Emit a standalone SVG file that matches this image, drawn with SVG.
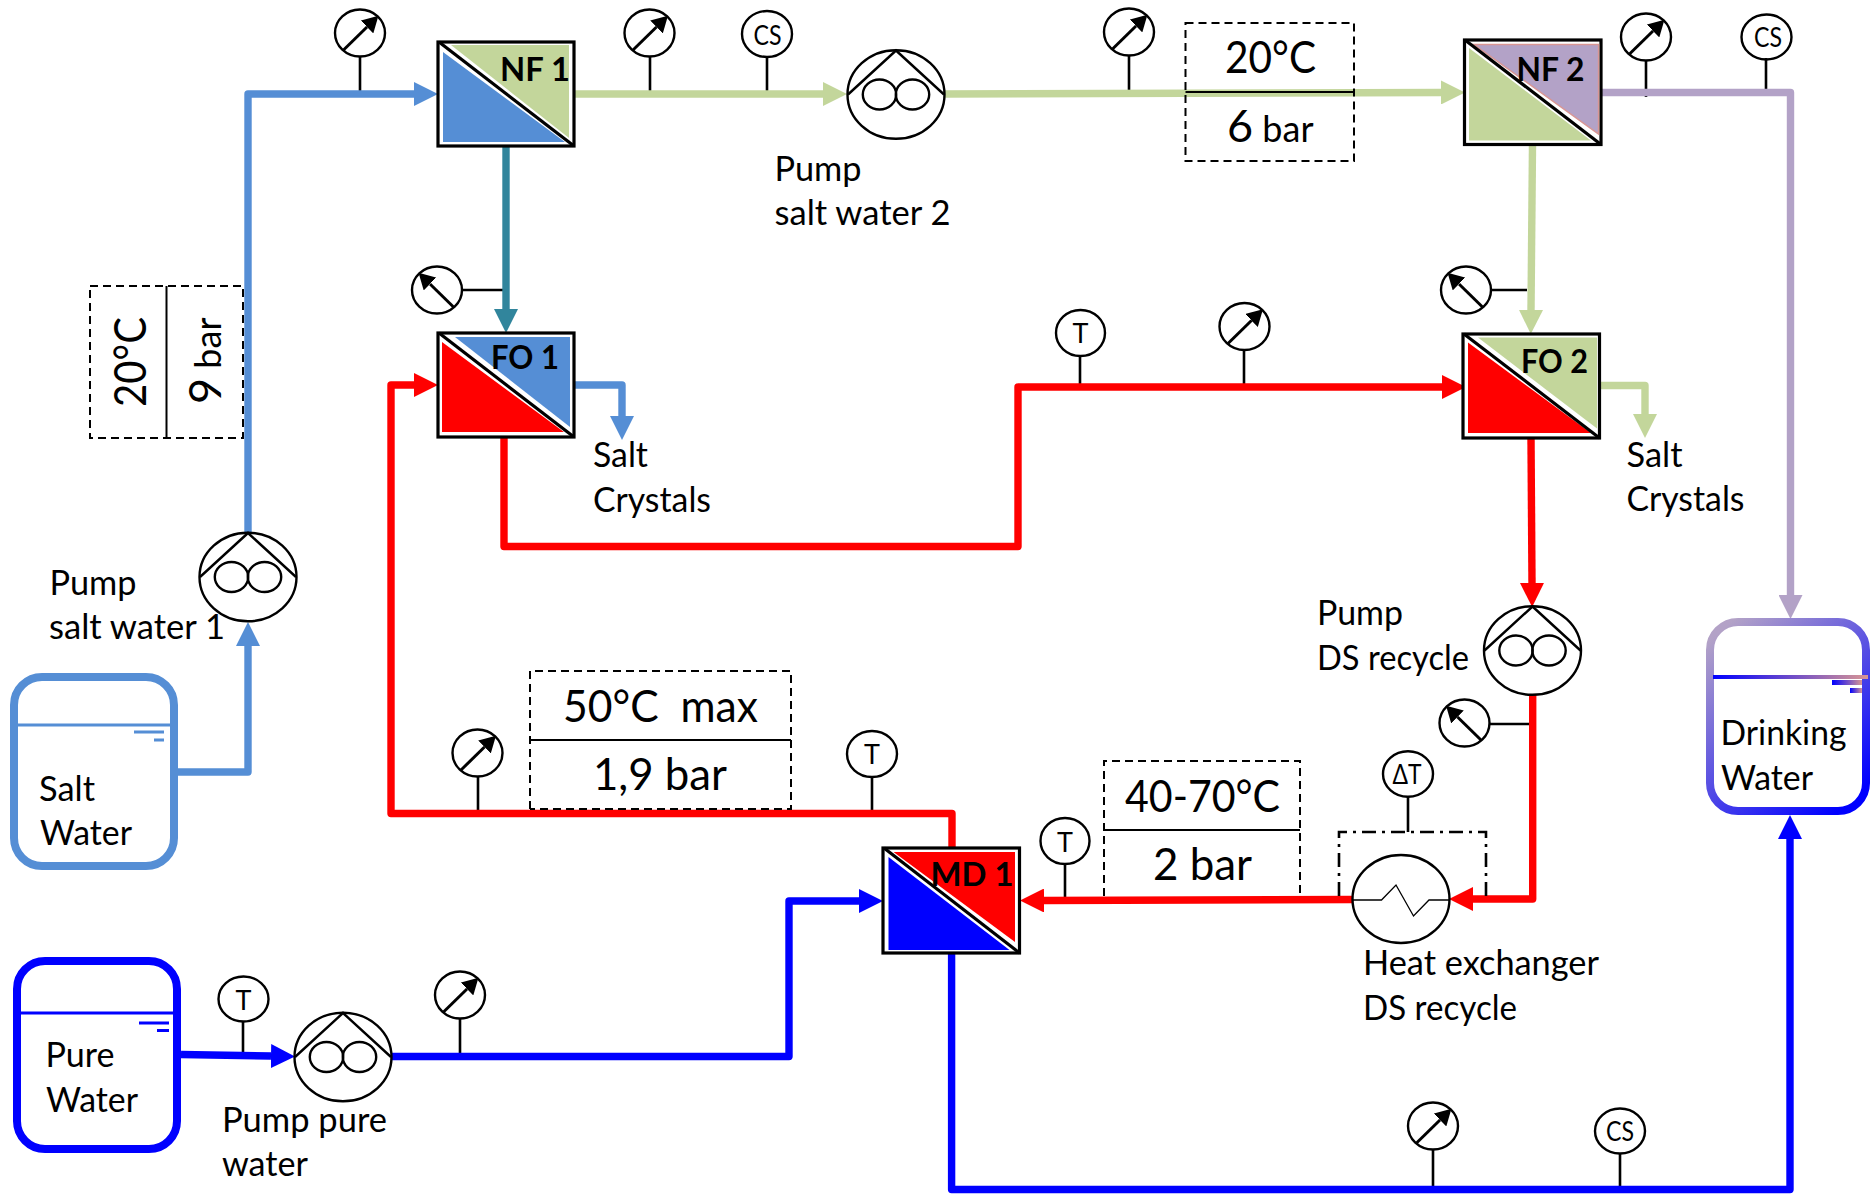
<svg xmlns="http://www.w3.org/2000/svg" width="1870" height="1194" viewBox="0 0 1870 1194">
<style>
text{font-family:Lato,"Liberation Sans",sans-serif;fill:#000}
.l{font-size:35px}
.b{font-size:33px;font-weight:700}
.s{font-size:27px;text-anchor:middle}
.big{font-size:45px}
.mid{font-size:36px}
.p{fill:none;stroke-width:7.4;stroke-linejoin:round}
.stem{fill:none;stroke:#000;stroke-width:2.6}
.thin{fill:none;stroke:#000;stroke-width:2}
.dash{fill:none;stroke:#000;stroke-width:2;stroke-dasharray:8 5}
.frame{fill:#fff;stroke:#000;stroke-width:3.2}
.diag{stroke:#000;stroke-width:3.2}
.ink{fill:none;stroke:#000;stroke-width:2.4}
.tank{fill:#fff;stroke-width:8}
</style>
<defs>
<marker id="aSalt" markerUnits="userSpaceOnUse" markerWidth="24" markerHeight="24" viewBox="0 0 24 24" refX="0" refY="12" orient="auto"><path d="M0 0L24 12L0 24Z" fill="#558ED5"/></marker>
<marker id="aTeal" markerUnits="userSpaceOnUse" markerWidth="24" markerHeight="24" viewBox="0 0 24 24" refX="0" refY="12" orient="auto"><path d="M0 0L24 12L0 24Z" fill="#31859C"/></marker>
<marker id="aGreen" markerUnits="userSpaceOnUse" markerWidth="24" markerHeight="24" viewBox="0 0 24 24" refX="0" refY="12" orient="auto"><path d="M0 0L24 12L0 24Z" fill="#C3D69B"/></marker>
<marker id="aRed" markerUnits="userSpaceOnUse" markerWidth="24" markerHeight="24" viewBox="0 0 24 24" refX="0" refY="12" orient="auto"><path d="M0 0L24 12L0 24Z" fill="#FF0000"/></marker>
<marker id="aPure" markerUnits="userSpaceOnUse" markerWidth="24" markerHeight="24" viewBox="0 0 24 24" refX="0" refY="12" orient="auto"><path d="M0 0L24 12L0 24Z" fill="#0000FF"/></marker>
<marker id="aPurple" markerUnits="userSpaceOnUse" markerWidth="24" markerHeight="24" viewBox="0 0 24 24" refX="0" refY="12" orient="auto"><path d="M0 0L24 12L0 24Z" fill="#B3A2C7"/></marker>
<marker id="needle" markerUnits="userSpaceOnUse" markerWidth="16" markerHeight="18" viewBox="0 0 16 18" refX="0" refY="9" orient="auto"><path d="M0 0L16 9L0 18Z" fill="#000"/></marker>
<g id="gauge"><ellipse rx="25" ry="23.5" fill="#fff" stroke="#000" stroke-width="2.4"/><path d="M-16.5 17L7 -6" stroke="#000" stroke-width="3" marker-end="url(#needle)"/></g>
<g id="pump"><ellipse rx="48.5" ry="44.3" fill="#fff" stroke="#000" stroke-width="2.4"/><path class="ink" d="M-48 0L0 -44L48 0" stroke-width="3"/><ellipse cx="-16.5" rx="16.7" ry="15" class="ink"/><ellipse cx="16.5" rx="16.7" ry="15" class="ink"/></g>
<linearGradient id="gTank" gradientUnits="userSpaceOnUse" x1="1710" y1="640" x2="1850" y2="800"><stop offset="0" stop-color="#B3A2C7"/><stop offset="1" stop-color="#0000FF"/></linearGradient>
<linearGradient id="gLevel"><stop offset="0" stop-color="#0000FF"/><stop offset="1" stop-color="#D99694"/></linearGradient>
</defs>

<g id="connectors">
<path class="stem" d="M360 57V92M650 57V92M767 57V92M1129 55V92M1646 61V97M1766 58V93M463 290H503M1492 290H1527M1080 356V385M1244 350V384M478 777V811M872 777V811"/>
<path class="stem" d="M243 1021V1056M460 1018V1054M1065 864V898M1408 797V832M1433 1150V1187M1620 1154V1187M1490 724H1530"/>
<path class="p" stroke="#558ED5" d="M178 772H248V646" marker-end="url(#aSalt)"/>
<path class="p" stroke="#558ED5" d="M248 534V94H414" marker-end="url(#aSalt)"/>
<path class="p" stroke="#31859C" d="M506 146V309" marker-end="url(#aTeal)"/>
<path class="p" stroke="#558ED5" d="M574 385H622V416" marker-end="url(#aSalt)"/>
<path class="p" stroke="#C3D69B" d="M574 94H823" marker-end="url(#aGreen)"/>
<path class="p" stroke="#C3D69B" d="M944 94L1441 92.500" marker-end="url(#aGreen)"/>
<path class="p" stroke="#C3D69B" d="M1532.500 145L1531 310" marker-end="url(#aGreen)"/>
<path class="p" stroke="#C3D69B" d="M1599 385.500H1645V414" marker-end="url(#aGreen)"/>
<path class="p" stroke="#B3A2C7" d="M1601 92.500H1790.500V595" marker-end="url(#aPurple)"/>
<path class="p" stroke="#FF0000" d="M504 437V546.500H1018V387H1442" marker-end="url(#aRed)"/>
<path class="p" stroke="#FF0000" d="M952 848V813.500H391V385H414" marker-end="url(#aRed)"/>
<path class="p" stroke="#FF0000" d="M1531 438L1532 583" marker-end="url(#aRed)"/>
<path class="p" stroke="#FF0000" d="M1532.700 695V899H1473" marker-end="url(#aRed)"/>
<path class="p" stroke="#FF0000" d="M1353 899.500L1044 900.500" marker-end="url(#aRed)"/>
<path class="p" stroke="#0000FF" d="M181 1054.500L271 1056" marker-end="url(#aPure)"/>
<path class="p" stroke="#0000FF" d="M391 1056.500H789V901H859" marker-end="url(#aPure)"/>
<path class="p" stroke="#0000FF" d="M951.600 953V1189.500H1790V839" marker-end="url(#aPure)"/>
</g>

<g id="cond-left">
<rect class="dash" x="90" y="286" width="153" height="152"/><path class="thin" d="M166.500 286V438"/>
<text class="big" transform="translate(146 407) rotate(-90)" textLength="90" lengthAdjust="spacingAndGlyphs">20°C</text>
<text transform="translate(220.500 404) rotate(-90)"><tspan class="big">9</tspan><tspan class="mid"> bar</tspan></text>
</g>
<g id="cond-top">
<rect class="dash" x="1185.500" y="23" width="168.500" height="138"/><path class="thin" d="M1185.500 92H1354"/>
<text class="big" x="1225" y="73" textLength="91" lengthAdjust="spacingAndGlyphs">20°C</text>
<text x="1227" y="142"><tspan class="big">6</tspan><tspan class="mid"> bar</tspan></text>
</g>
<g id="cond-ds">
<path class="dash" d="M530 809V671H791V809H530"/><path class="thin" d="M530 740H791"/>
<text class="big" x="563" y="722" textLength="195" lengthAdjust="spacingAndGlyphs" xml:space="preserve">50°C  max</text>
<text class="big" x="593" y="790" textLength="134" lengthAdjust="spacingAndGlyphs">1,9 bar</text>
</g>
<g id="cond-md">
<path class="dash" d="M1104 896V761H1300V896"/><path class="thin" d="M1104 830H1300"/>
<text class="big" x="1125" y="811.500" textLength="155" lengthAdjust="spacingAndGlyphs">40-70°C</text>
<text class="big" x="1153" y="880" textLength="99" lengthAdjust="spacingAndGlyphs">2 bar</text>
</g>
<g id="hx-loop"><path d="M1339 896V832H1486V896" fill="none" stroke="#000" stroke-width="2.600" stroke-dasharray="14 6 3 6"/></g>

<g id="nf1"><rect class="frame" x="438" y="42" width="136" height="104"/><path fill="#C3D69B" d="M451 45H569V138Z"/><path fill="#558ED5" d="M443 52V142H565Z"/><path class="diag" d="M439 42L574 146"/><text class="b" x="500" y="81" textLength="70" lengthAdjust="spacingAndGlyphs">NF 1</text></g>
<g id="fo1"><rect class="frame" x="438" y="333" width="136" height="104"/><path fill="#558ED5" d="M455 337H570V427Z"/><path fill="#FF0000" d="M442 342V432H564Z"/><path class="diag" d="M439 333L574 437"/><text class="b" x="491" y="369" textLength="68" lengthAdjust="spacingAndGlyphs">FO 1</text></g>
<g id="nf2"><rect class="frame" x="1464.500" y="40" width="136.500" height="104.500"/><path fill="#B3A2C7" stroke="#D99694" stroke-width="1.500" d="M1474 44.500H1598.500V134Z"/><path fill="#C3D69B" d="M1469 48V140.500H1591Z"/><path class="diag" d="M1465 40L1601 144.500"/><text class="b" x="1516.500" y="81" textLength="68" lengthAdjust="spacingAndGlyphs">NF 2</text></g>
<g id="fo2"><rect class="frame" x="1463" y="334" width="136.500" height="104"/><path fill="#C3D69B" d="M1478 337.500H1597V428.500Z"/><path fill="#FF0000" d="M1468 342.500V433H1591Z"/><path class="diag" d="M1464 334L1599.500 438"/><text class="b" x="1521" y="373" textLength="67" lengthAdjust="spacingAndGlyphs">FO 2</text></g>
<g id="md1"><rect class="frame" x="883" y="848" width="136.500" height="105"/><path fill="#FF0000" d="M893.500 852H1015V942Z"/><path fill="#0000FF" d="M888.500 857V950H1009.500Z"/><path class="diag" d="M884 848L1019.500 953"/><text class="b" x="930.500" y="886" textLength="83" lengthAdjust="spacingAndGlyphs">MD 1</text></g>

<g id="pump-salt-1"><use href="#pump" x="248" y="577"/><text class="l" x="49.500" y="595" textLength="87" lengthAdjust="spacingAndGlyphs">Pump</text><text class="l" x="49" y="639" textLength="176" lengthAdjust="spacingAndGlyphs">salt water 1</text></g>
<g id="pump-salt-2"><use href="#pump" x="896" y="94.500"/><text class="l" x="774.500" y="181" textLength="87" lengthAdjust="spacingAndGlyphs">Pump</text><text class="l" x="774.500" y="224.500" textLength="176" lengthAdjust="spacingAndGlyphs">salt water 2</text></g>
<g id="pump-ds"><use href="#pump" x="1532.500" y="650.500"/><text class="l" x="1317" y="625" textLength="86" lengthAdjust="spacingAndGlyphs">Pump</text><text class="l" x="1317" y="670" textLength="152" lengthAdjust="spacingAndGlyphs">DS recycle</text></g>
<g id="pump-pure"><use href="#pump" x="343" y="1057"/><text class="l" x="222" y="1131.500" textLength="165" lengthAdjust="spacingAndGlyphs">Pump pure</text><text class="l" x="222" y="1175.500" textLength="86" lengthAdjust="spacingAndGlyphs">water</text></g>

<g id="heat-exchanger"><ellipse cx="1401" cy="899" rx="48.500" ry="44" fill="#fff" stroke="#000" stroke-width="2.400"/><path fill="none" stroke="#000" stroke-width="1.300" d="M1353 900H1381.500L1396 885L1413.500 916L1429 900H1449.500"/><text class="l" x="1363" y="975" textLength="236" lengthAdjust="spacingAndGlyphs">Heat exchanger</text><text class="l" x="1363" y="1020" textLength="154" lengthAdjust="spacingAndGlyphs">DS recycle</text></g>

<g id="tank-salt"><rect class="tank" stroke="#558ED5" x="14" y="677" width="160" height="189" rx="28" ry="28"/><path stroke="#558ED5" stroke-width="3" d="M17 725H171M134 732H164M154 740H164"/><text class="l" x="39" y="801" textLength="56" lengthAdjust="spacingAndGlyphs">Salt</text><text class="l" x="40" y="845" textLength="92" lengthAdjust="spacingAndGlyphs">Water</text></g>
<g id="tank-pure"><rect class="tank" stroke="#0000FF" x="17" y="961" width="160" height="188" rx="28" ry="28"/><path stroke="#0000FF" stroke-width="3" d="M20 1013H174M139 1023H169M157 1030.500H169"/><text class="l" x="45.500" y="1067" textLength="69" lengthAdjust="spacingAndGlyphs">Pure</text><text class="l" x="46" y="1112" textLength="92" lengthAdjust="spacingAndGlyphs">Water</text></g>
<g id="tank-drinking"><rect class="tank" stroke="url(#gTank)" x="1710" y="622" width="156" height="189" rx="28" ry="28"/><rect fill="url(#gLevel)" x="1713" y="675" width="155" height="4"/><rect fill="url(#gLevel)" x="1832" y="680" width="30" height="5"/><rect fill="url(#gLevel)" x="1850" y="688" width="12" height="5"/><text class="l" x="1720.500" y="745" textLength="126" lengthAdjust="spacingAndGlyphs">Drinking</text><text class="l" x="1721" y="790" textLength="92" lengthAdjust="spacingAndGlyphs">Water</text></g>

<g id="salt-crystals-1"><text class="l" x="593" y="467" textLength="55" lengthAdjust="spacingAndGlyphs">Salt</text><text class="l" x="593" y="512" textLength="118" lengthAdjust="spacingAndGlyphs">Crystals</text></g>
<g id="salt-crystals-2"><text class="l" x="1626.500" y="467" textLength="56" lengthAdjust="spacingAndGlyphs">Salt</text><text class="l" x="1626.500" y="511" textLength="118" lengthAdjust="spacingAndGlyphs">Crystals</text></g>

<g id="pi-1"><use href="#gauge" x="360" y="33"/></g>
<g id="pi-2"><use href="#gauge" x="649.500" y="33"/></g>
<g id="pi-3"><use href="#gauge" x="1129" y="32"/></g>
<g id="pi-4"><use href="#gauge" x="1646" y="37"/></g>
<g id="pi-5"><use href="#gauge" x="1244.500" y="326.500"/></g>
<g id="pi-6"><use href="#gauge" x="477.500" y="753"/></g>
<g id="pi-7"><use href="#gauge" x="460" y="995"/></g>
<g id="pi-8"><use href="#gauge" x="1433" y="1126"/></g>
<g id="pi-9"><use href="#gauge" transform="translate(437 290) scale(-1 1)"/></g>
<g id="pi-10"><use href="#gauge" transform="translate(1466 290) scale(-1 1)"/></g>
<g id="pi-11"><use href="#gauge" transform="translate(1464.500 723) scale(-1 1)"/></g>

<g id="cs-1"><ellipse class="ink" cx="767" cy="34" rx="25" ry="23"/><text class="s" x="767.500" y="45" textLength="28" lengthAdjust="spacingAndGlyphs">CS</text></g>
<g id="cs-2"><ellipse class="ink" cx="1766.500" cy="37" rx="25" ry="22.500"/><text class="s" x="1768" y="47" textLength="28" lengthAdjust="spacingAndGlyphs">CS</text></g>
<g id="cs-3"><ellipse class="ink" cx="1620" cy="1131" rx="25" ry="22.500"/><text class="s" x="1620" y="1141" textLength="28" lengthAdjust="spacingAndGlyphs">CS</text></g>
<g id="t-1"><ellipse class="ink" cx="1080.500" cy="333" rx="24.500" ry="23"/><text class="s" x="1080.500" y="343">T</text></g>
<g id="t-2"><ellipse class="ink" cx="872" cy="754" rx="25" ry="23"/><text class="s" x="872" y="764">T</text></g>
<g id="t-3"><ellipse class="ink" cx="1065" cy="841" rx="24.500" ry="23"/><text class="s" x="1065" y="852">T</text></g>
<g id="t-4"><ellipse class="ink" cx="243.500" cy="999" rx="25" ry="22.500"/><text class="s" x="243.500" y="1009.500">T</text></g>
<g id="dt"><ellipse class="ink" cx="1408" cy="774" rx="25" ry="22.700"/><text class="s" x="1407" y="783.500" textLength="29" lengthAdjust="spacingAndGlyphs">ΔT</text></g>
</svg>
